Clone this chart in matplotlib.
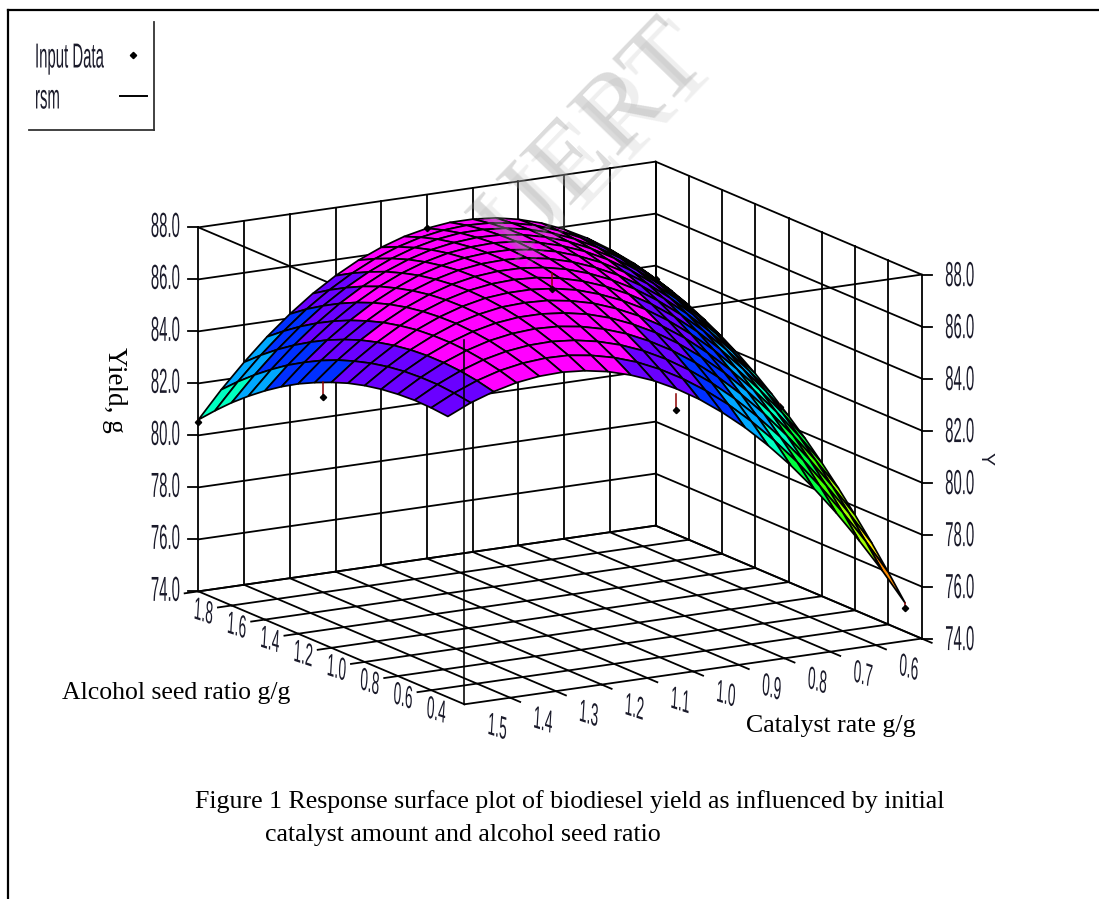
#!/usr/bin/env python3
import numpy as np
import matplotlib
matplotlib.use('Agg')
import matplotlib.pyplot as plt
from matplotlib.colors import BoundaryNorm, ListedColormap
from matplotlib.lines import Line2D
from matplotlib.patheffects import AbstractPathEffect
from matplotlib.transforms import Affine2D
from mpl_toolkits.mplot3d import proj3d

W, H = 1099, 899
SANS = ['Liberation Sans', 'DejaVu Sans']
SERIF = ['Liberation Serif', 'DejaVu Serif']

# axis ticks
z_ticks = [74, 76, 78, 80, 82, 84, 86, 88]
x_ticks = [1.5, 1.4, 1.3, 1.2, 1.1, 1.0, 0.9, 0.8, 0.7, 0.6]
y_ticks = [1.8, 1.6, 1.4, 1.2, 1.0, 0.8, 0.6, 0.4]
x_grid = [1.6, 1.5, 1.4, 1.3, 1.2, 1.1, 1.0, 0.9, 0.8, 0.7, 0.6]
y_grid = [0.2, 0.4, 0.6, 0.8, 1.0, 1.2, 1.4, 1.6, 1.8]

# surface
catalyst = [1.60, 1.55, 1.50, 1.45, 1.40, 1.35, 1.30, 1.25, 1.20, 1.15, 1.10,
            1.05, 1.00, 0.95, 0.90, 0.85, 0.80, 0.75, 0.70, 0.65, 0.60]
alcohol = [0.30, 0.40, 0.50, 0.60, 0.70, 0.80, 0.90, 1.00,
           1.10, 1.20, 1.30, 1.40, 1.50, 1.60, 1.70, 1.80]
yields = [
    [84.80, 85.20, 85.50, 85.72, 85.84, 85.87, 85.80, 85.64, 85.38, 85.04, 84.60, 84.07, 83.44, 82.73, 81.92, 81.02, 80.02, 78.93, 77.74, 76.47, 75.10],
    [84.86, 85.30, 85.65, 85.91, 86.07, 86.14, 86.12, 85.99, 85.78, 85.48, 85.08, 84.59, 84.01, 83.34, 82.57, 81.71, 80.76, 79.70, 78.56, 77.33, 76.00],
    [84.88, 85.36, 85.75, 86.05, 86.25, 86.36, 86.38, 86.30, 86.13, 85.87, 85.52, 85.07, 84.53, 83.90, 83.17, 82.35, 81.44, 80.43, 79.33, 78.14, 76.86],
    [84.84, 85.36, 85.80, 86.14, 86.39, 86.54, 86.60, 86.56, 86.43, 86.21, 85.90, 85.49, 85.00, 84.41, 83.73, 82.95, 82.08, 81.11, 80.05, 78.90, 77.66],
    [84.76, 85.32, 85.80, 86.18, 86.47, 86.67, 86.77, 86.77, 86.68, 86.51, 86.24, 85.87, 85.42, 84.87, 84.23, 83.50, 82.67, 81.74, 80.72, 79.62, 78.42],
    [84.63, 85.23, 85.75, 86.17, 86.51, 86.74, 86.89, 86.93, 86.89, 86.75, 86.53, 86.20, 85.79, 85.28, 84.69, 83.99, 83.21, 82.32, 81.35, 80.28, 79.13],
    [84.45, 85.09, 85.65, 86.12, 86.49, 86.77, 86.96, 87.04, 87.04, 86.95, 86.77, 86.48, 86.11, 85.65, 85.09, 84.44, 83.70, 82.85, 81.92, 80.90, 79.79],
    [84.21, 84.90, 85.50, 86.01, 86.43, 86.75, 86.98, 87.11, 87.15, 87.10, 86.95, 86.71, 86.38, 85.96, 85.45, 84.84, 84.14, 83.34, 82.45, 81.47, 80.39],
    [83.93, 84.67, 85.31, 85.86, 86.32, 86.68, 86.95, 87.12, 87.20, 87.19, 87.09, 86.90, 86.61, 86.23, 85.76, 85.19, 84.53, 83.77, 82.92, 81.98, 80.95],
    [83.61, 84.38, 85.06, 85.65, 86.16, 86.56, 86.87, 87.09, 87.21, 87.24, 87.19, 87.03, 86.78, 86.44, 86.02, 85.49, 84.87, 84.16, 83.35, 82.45, 81.47],
    [83.23, 84.04, 84.77, 85.40, 85.95, 86.39, 86.75, 87.00, 87.17, 87.24, 87.23, 87.11, 86.91, 86.61, 86.23, 85.74, 85.17, 84.49, 83.73, 82.87, 81.93],
    [82.80, 83.66, 84.42, 85.10, 85.69, 86.18, 86.57, 86.87, 87.08, 87.19, 87.22, 87.15, 86.98, 86.73, 86.39, 85.95, 85.41, 84.78, 84.06, 83.24, 82.34],
    [82.32, 83.22, 84.03, 84.75, 85.38, 85.91, 86.35, 86.69, 86.94, 87.09, 87.16, 87.13, 87.01, 86.80, 86.50, 86.10, 85.61, 85.02, 84.34, 83.56, 82.70],
    [81.80, 82.74, 83.59, 84.35, 85.02, 85.59, 86.07, 86.46, 86.75, 86.95, 87.06, 87.07, 86.99, 86.82, 86.56, 86.20, 85.75, 85.21, 84.57, 83.84, 83.02],
    [81.22, 82.21, 83.10, 83.90, 84.62, 85.23, 85.75, 86.18, 86.51, 86.75, 86.90, 86.96, 86.92, 86.79, 86.58, 86.26, 85.85, 85.35, 84.75, 84.06, 83.28],
    [80.60, 81.63, 82.56, 83.41, 84.16, 84.82, 85.38, 85.85, 86.22, 86.51, 86.70, 86.80, 86.80, 86.72, 86.54, 86.27, 85.90, 85.44, 84.88, 84.24, 83.50],
]

# input data points and the fitted value under/over each one
input_x = [1.6, 1.6, 1.1, 0.6, 0.6, 1.1, 0.6, 1.1]
input_y = [1.8, 1.05, 0.3, 0.3, 1.05, 1.05, 1.8, 1.8]
input_z = [80.5, 83.5, 83.8, 74.9, 80.6, 86.4, 83.5, 86.7]
fitted_z = [80.6, 84.1, 84.4, 75.1, 80.7, 87.0, 83.5, 86.7]

band_edges = [74, 75.17, 76.33, 77.5, 78.67, 79.83, 81, 82.17, 83.33, 84.5, 85.67, 86.83, 88]
band_colors = ['#ff0000', '#ff8c00', '#ffee00', '#a0ff00', '#40ff00', '#00ff40',
               '#00ffc0', '#00a8ff', '#0030ff', '#6a00ff', '#ff00ff', '#ff00ff']


class Squeeze(AbstractPathEffect):
    # the chart's sans labels are squashed sideways, no narrow font is installed
    def __init__(self, x0, sx=0.43):
        super().__init__()
        self.x0 = x0
        self.sx = sx

    def draw_path(self, renderer, gc, tpath, affine, rgbFace=None):
        squash = Affine2D().translate(-self.x0, 0).scale(self.sx, 1).translate(self.x0, 0)
        renderer.draw_path(gc, tpath, affine + squash, rgbFace)


fig = plt.figure(figsize=(W / 100, H / 100), dpi=100, facecolor='white')
ax = fig.add_axes([142.7 / W, 48.7 / H, 812.7 / W, 812.7 / H], projection='3d', computed_zorder=False)
ax.set_proj_type('ortho')
ax.set_box_aspect((529, 529, 375.6))
ax.view_init(elev=14.3, azim=-120.2)
ax.set_xlim(1.6, 0.6)
ax.set_ylim(0.2, 1.8)
ax.set_zlim(74, 88)
ax.set_axis_off()
ax.patch.set_alpha(0)
ax.apply_aspect()


def px(x, y):
    return x / W, 1 - y / H


def box_px(x, y, z):
    xp, yp, _ = proj3d.proj_transform(x, y, z, ax.get_proj())
    dx, dy = ax.transData.transform((xp, yp))
    return dx, H - dy


def line_px(xs, ys, lw=1.4, color='black', zorder=3):
    fig.add_artist(Line2D([x / W for x in xs], [1 - y / H for y in ys], color=color, lw=lw, zorder=zorder))


def narrow_text(x, y, s, size, **kw):
    t = fig.text(*px(x, y), s, family=SANS, fontsize=size, va='center', color='#1a1a2a', **kw)
    t.set_path_effects([Squeeze(x)])
    return t


LINE = dict(color='black', lw=1.3, zorder=1)

# floor
for x in x_grid:
    ax.plot([x, x], [0.2, 1.8], [74, 74], **LINE)
for y in y_grid:
    ax.plot([1.6, 0.6], [y, y], [74, 74], **LINE)
# tick stubs on the floor
for x in x_ticks:
    ax.plot([x, x], [0.2, 0.14], [74, 74], **LINE)
for y in y_ticks:
    ax.plot([1.6, 1.63], [y, y], [74, 74], **LINE)

# back walls
for x in x_grid:
    ax.plot([x, x], [1.8, 1.8], [74, 88], **LINE)
for y in y_grid:
    ax.plot([0.6, 0.6], [y, y], [74, 88], **LINE)
for z in z_ticks:
    ax.plot([1.6, 0.6], [1.8, 1.8], [z, z], **LINE)
    ax.plot([0.6, 0.6], [1.8, 0.2], [z, z], **LINE)

# top edges, hidden behind the surface
ax.plot([1.6, 1.6], [1.8, 0.2], [88, 88], **LINE)
ax.plot([1.6, 0.6], [0.2, 0.2], [88, 88], **LINE)

X, Y = np.meshgrid(catalyst, alcohol)
Z = np.array(yields)
cell = (Z[:-1, :-1] + Z[1:, :-1] + Z[:-1, 1:] + Z[1:, 1:]) / 4
cmap = ListedColormap(band_colors)
norm = BoundaryNorm(band_edges, cmap.N)
surf = ax.plot_surface(X, Y, Z, rstride=1, cstride=1, facecolors=cmap(norm(cell)),
                       shade=False, linewidth=1.25, zorder=2)
surf.set_edgecolor('black')

# front vertical edge runs over the surface
ax.plot([1.6, 1.6], [0.2, 0.2], [74, 88], color='black', lw=1.15, zorder=3)

for x, y, z, f in zip(input_x, input_y, input_z, fitted_z):
    ax.plot([x, x], [y, y], [z, f], color='#8b0000', lw=1.1, zorder=4)
ax.plot(input_x, input_y, input_z, linestyle='none', marker='D', color='black', ms=3.2, zorder=5)

# z tick labels, both sides
for z in z_ticks:
    x0, y0 = box_px(1.6, 1.8, z)
    line_px([x0 - 10, x0], [y0, y0], lw=1.3)
    narrow_text(x0 - 33, y0, '%.1f' % z, 25, ha='center')
    x1, y1 = box_px(0.6, 0.2, z)
    line_px([x1, x1 + 10], [y1, y1], lw=1.3)
    narrow_text(x1 + 38, y1 + 2, '%.1f' % z, 25, ha='center')

for y in y_ticks:
    x0, y0 = box_px(1.6, y, 74)
    narrow_text(x0 + 5, y0 + 22, '%.1f' % y, 23, ha='center', rotation=-8)
for x in x_ticks:
    x0, y0 = box_px(x, 0.2, 74)
    narrow_text(x0 - 13, y0 + 31, '%.1f' % x, 23, ha='center', rotation=-8)

fig.text(*px(985, 458), 'Y', family=SANS, fontsize=14, rotation=-90, ha='center', va='center', color='#1a1a2a')
fig.text(*px(115, 390), 'Yield, g', family=SERIF, fontsize=19.5, rotation=-90, ha='center', va='center')
fig.text(*px(62, 693), 'Alcohol seed ratio g/g', family=SERIF, fontsize=18.5, ha='left', va='center')
fig.text(*px(746, 726), 'Catalyst rate g/g', family=SERIF, fontsize=18.6, ha='left', va='center')
fig.text(*px(195, 802), 'Figure 1 Response surface plot of biodiesel yield as influenced by initial',
         family=SERIF, fontsize=18.6, ha='left', va='center')
fig.text(*px(265, 835), 'catalyst amount and alcohol seed ratio', family=SERIF, fontsize=18.6, ha='left', va='center')

# page frame
line_px([8, W], [10, 10], lw=1.6)
line_px([8, 8], [10, H], lw=1.6)

# legend box
line_px([154, 154], [22, 130], lw=1.3, color='#333333')
line_px([29, 154], [130, 130], lw=1.3, color='#333333')
narrow_text(35, 58, 'Input Data', 25, ha='left')
narrow_text(35, 99, 'rsm', 25, ha='left')
fig.add_artist(Line2D([133 / W], [1 - 55 / H], marker='D', ms=3.2, color='black', linestyle='none'))
line_px([120, 147], [96, 96], lw=1.4)

# watermark
fig.text(*px(592, 142), 'IJERT', family=SERIF, fontsize=80, rotation=46, rotation_mode='anchor',
         ha='center', va='center', color='#909090', alpha=0.32, zorder=6)
fig.text(*px(604, 147), 'IJERT', family=SERIF, fontsize=80, rotation=46, rotation_mode='anchor',
         ha='center', va='center', color='#b0b0b0', alpha=0.2, zorder=6)

fig.savefig('out.png', dpi=100)
